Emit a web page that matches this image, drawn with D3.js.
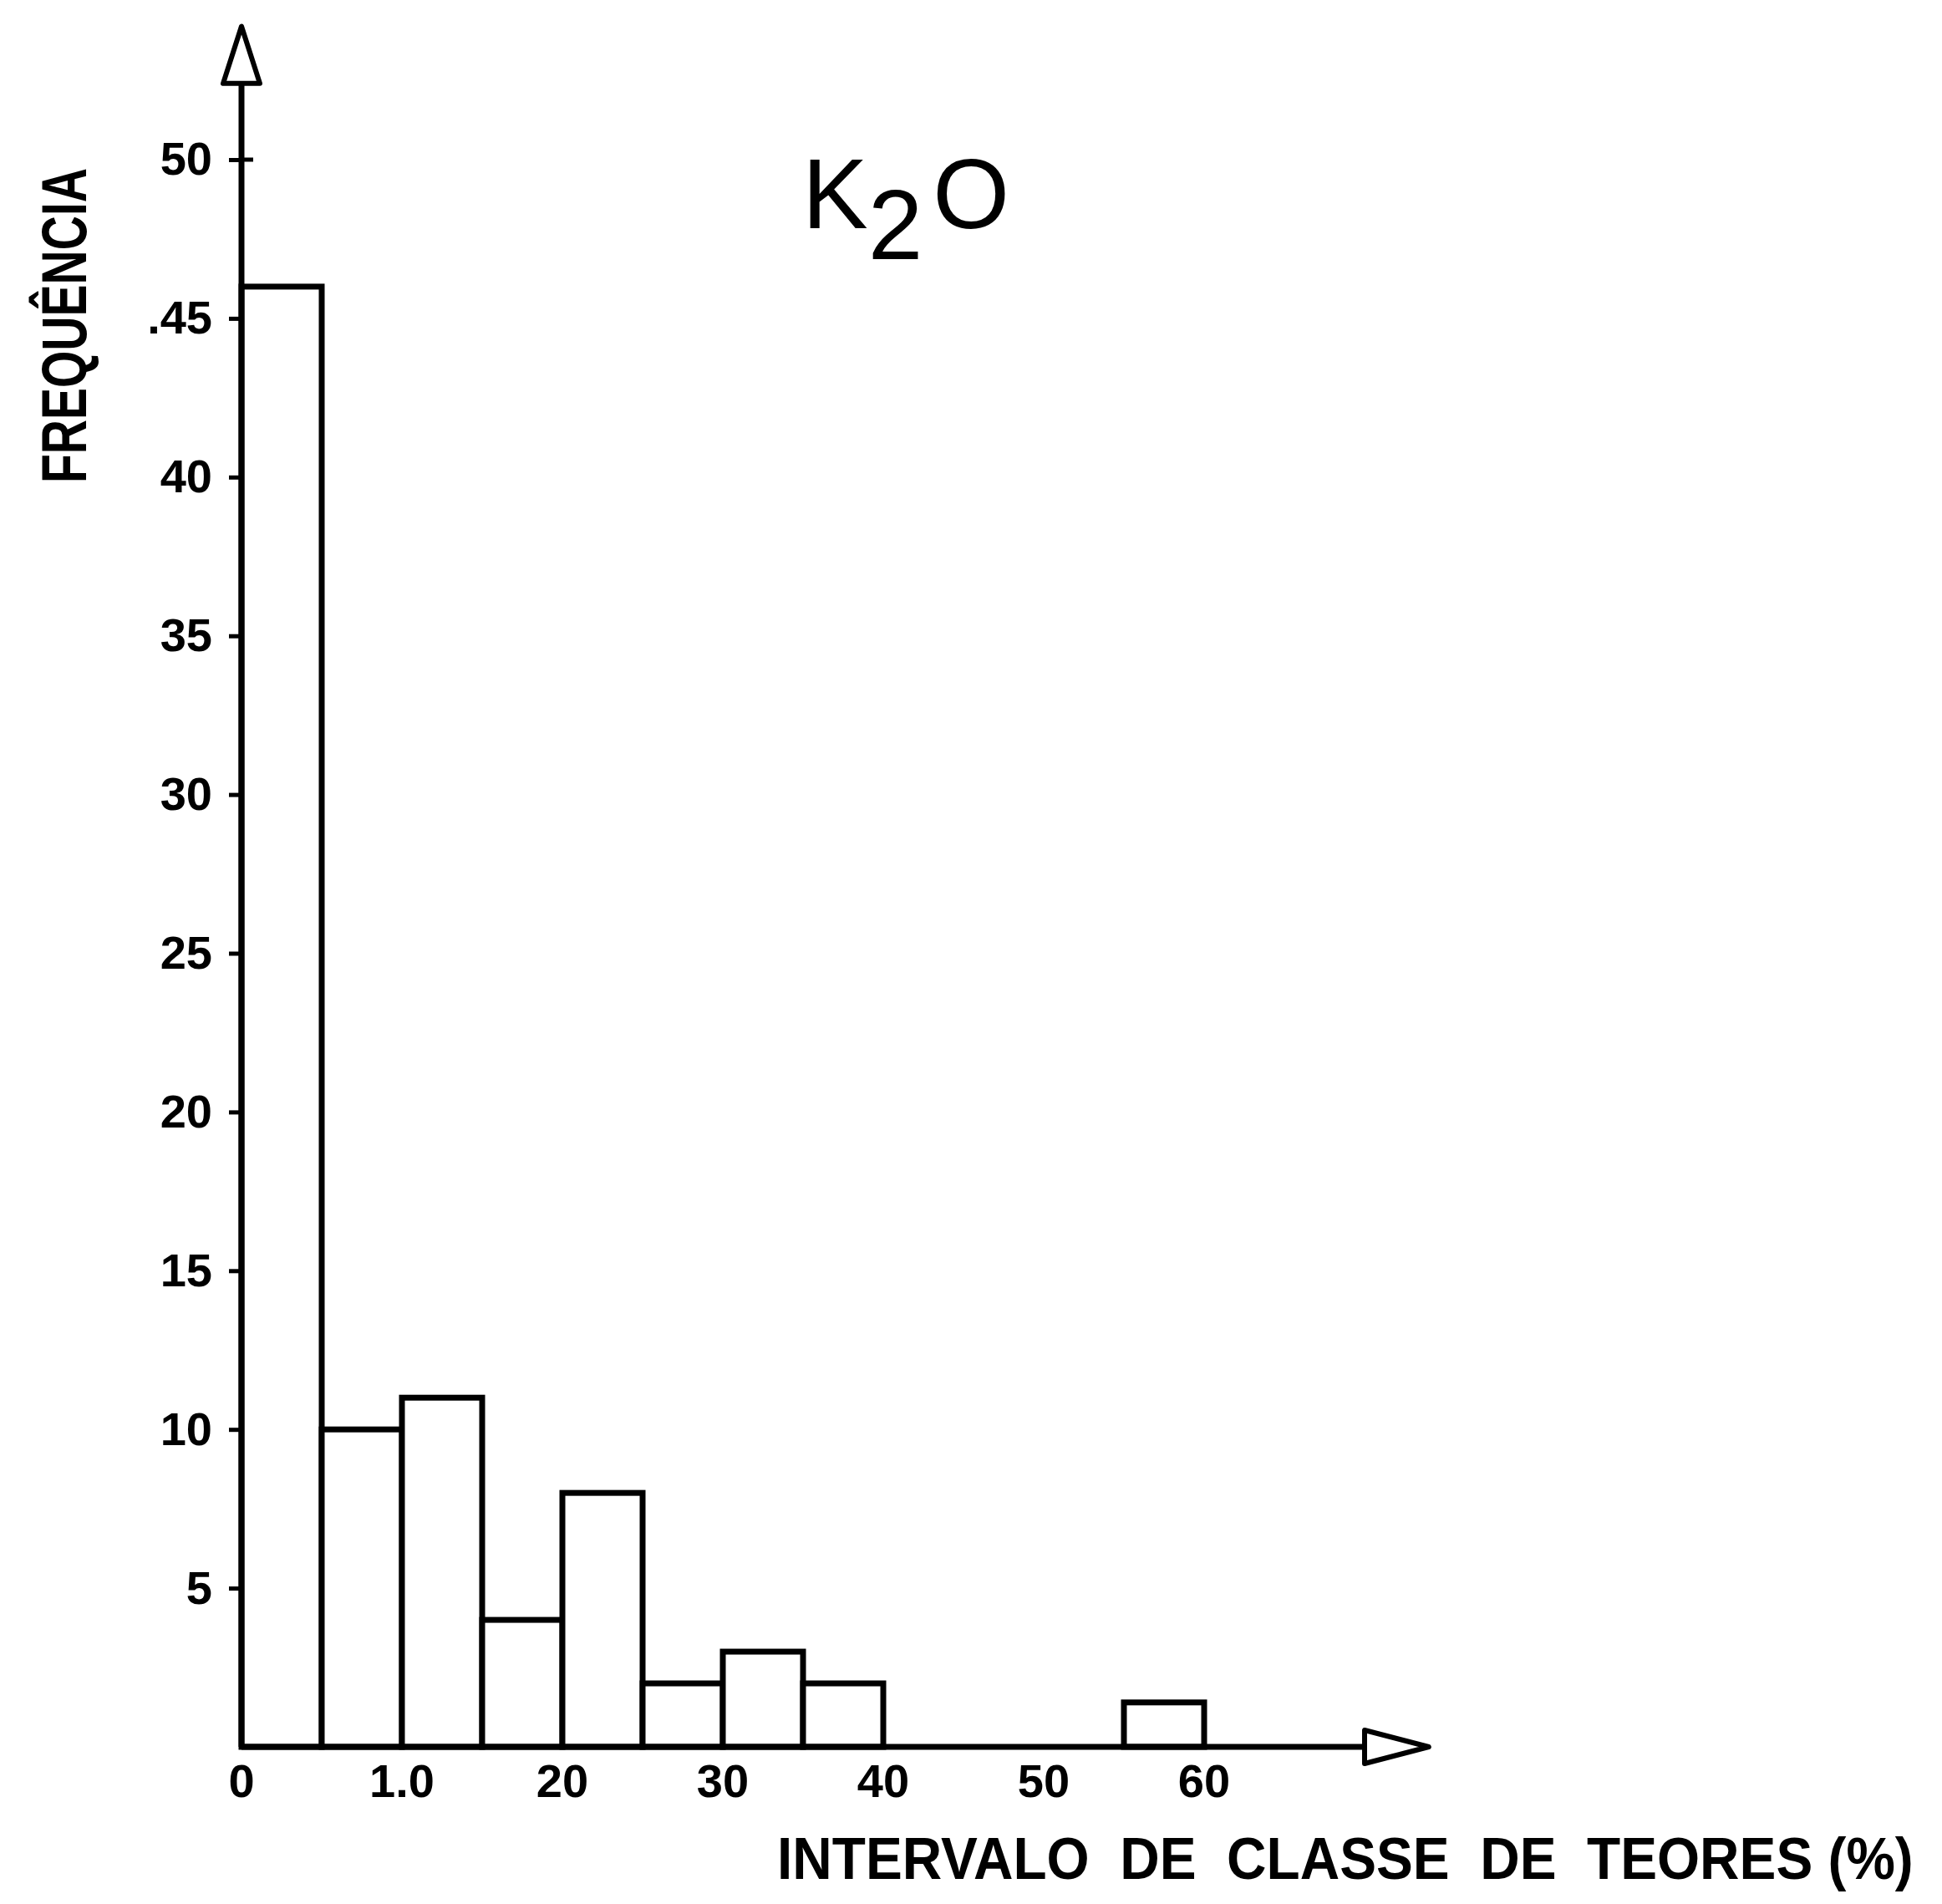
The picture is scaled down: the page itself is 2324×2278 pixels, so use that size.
<!DOCTYPE html>
<html lang="pt">
<head>
<meta charset="utf-8">
<title>K2O</title>
<script src="https://d3js.org/d3.v7.min.js"></script>
<style>
  body { margin: 0; background: #fff; }
  text { font-family: "Liberation Sans", Arial, sans-serif; fill: #000; }
</style>
</head>
<body>
<div id="chart"></div>
<script>
// classes de teores (%) and their frequency
var binStart = [0, 0.5, 1.0, 1.5, 2.0, 2.5, 3.0, 3.5, 4.0, 4.5, 5.0, 5.5];
var binEnd   = [0.5, 1.0, 1.5, 2.0, 2.5, 3.0, 3.5, 4.0, 4.5, 5.0, 5.5, 6.0];
var freq     = [46, 10, 11, 4, 8, 2, 3, 2, 0, 0, 0, 1.4];

var yTicks = [5, 10, 15, 20, 25, 30, 35, 40, 45, 50];
var yTickLabels = ["5", "10", "15", "20", "25", "30", "35", "40", ".45", "50"];
var xTicks = [0, 1, 2, 3, 4, 5, 6];
var xTickLabels = ["0", "1.0", "20", "30", "40", "50", "60"];

var W = 2324, H = 2278;
var lw = 7;

var svg = d3.select("#chart").append("svg")
    .attr("width", W)
    .attr("height", H);

var x = d3.scaleLinear().domain([0, 7]).range([289, 289 + 7 * 192]);
var y = d3.scaleLinear().domain([0, 50]).range([2090, 191]);

// bars
var bins = freq.map(function(f, i) {
    return { a: binStart[i], b: binEnd[i], f: f };
}).filter(function(d) { return d.f > 0; });

svg.append("g")
    .selectAll("rect")
    .data(bins)
    .enter()
    .append("rect")
    .attr("x", function(d) { return x(d.a); })
    .attr("width", function(d) { return x(d.b) - x(d.a); })
    .attr("y", function(d) { return y(d.f); })
    .attr("height", function(d) { return y(0) - y(d.f); })
    .style("fill", "#fff")
    .style("stroke", "#000")
    .style("stroke-width", lw);

// y axis ticks + labels
var yAxis = svg.append("g")
    .attr("transform", "translate(" + x(0) + ",0)")
    .call(d3.axisLeft(y)
        .tickValues(yTicks)
        .tickFormat(function(d, i) { return yTickLabels[i]; })
        .tickSize(15)
        .tickPadding(20));
yAxis.select(".domain").remove();
yAxis.selectAll(".tick line").attr("stroke", "#000").attr("stroke-width", 5);
yAxis.selectAll(".tick text")
    .attr("font-family", "Liberation Sans, Arial, sans-serif")
    .attr("font-size", 56)
    .attr("font-weight", "bold")
    .attr("fill", "#000");
// the 50 tick crosses the axis
yAxis.append("line")
    .attr("x1", 0).attr("x2", 14)
    .attr("y1", y(50)).attr("y2", y(50))
    .attr("stroke", "#000").attr("stroke-width", 5);

// axis lines with hollow arrows
var yTop = 52.4, yTip = 54.2;
var xEnd = 7, xTip = 7.4;

svg.append("path")
    .attr("d", d3.line()([[x(0), y(0)], [x(0), y(yTop)]]))
    .style("stroke", "#000").style("stroke-width", lw).style("fill", "none");
svg.append("path")
    .attr("d", d3.line()([[x(0), y(0)], [x(xEnd), y(0)]]))
    .style("stroke", "#000").style("stroke-width", lw).style("fill", "none");

svg.append("path")
    .attr("d", d3.line()([[x(0) - 22, y(yTop)], [x(0) + 22, y(yTop)], [x(0), y(yTip)]]) + "Z")
    .style("fill", "#fff").style("stroke", "#000").style("stroke-width", 6)
    .style("stroke-linejoin", "round");
svg.append("path")
    .attr("d", d3.line()([[x(xEnd), y(0) - 20], [x(xEnd), y(0) + 20], [x(xTip), y(0)]]) + "Z")
    .style("fill", "#fff").style("stroke", "#000").style("stroke-width", 6)
    .style("stroke-linejoin", "round");

// x tick labels
svg.append("g")
    .selectAll("text")
    .data(xTicks)
    .enter()
    .append("text")
    .attr("x", function(d) { return x(d); })
    .attr("y", 2150)
    .attr("text-anchor", "middle")
    .attr("font-size", 56)
    .attr("font-weight", "bold")
    .text(function(d, i) { return xTickLabels[i]; });

// title K2O
var title = svg.append("text")
    .attr("x", 960)
    .attr("y", 273)
    .attr("font-size", 118);
title.append("tspan").text("K");
title.append("tspan").attr("dy", 37).text("2");
title.append("tspan").attr("dy", -37).attr("dx", 12).text("O");

// axis titles: condensed lettering, squeezed horizontally to the target length
function squeezed(txt, size, len, tf) {
    var t = svg.append("text")
        .attr("font-size", size)
        .attr("font-weight", "bold")
        .style("white-space", "pre")
        .text(txt);
    var sx = len / t.node().getComputedTextLength();
    t.attr("transform", tf + " scale(" + sx + ",1)");
    return t;
}
squeezed("INTERVALO  DE  CLASSE  DE  TEORES (%)", 70, 1360, "translate(930,2248)");
squeezed("FREQUÊNCIA", 76, 377, "translate(103,578) rotate(-90)");
</script>
</body>
</html>
